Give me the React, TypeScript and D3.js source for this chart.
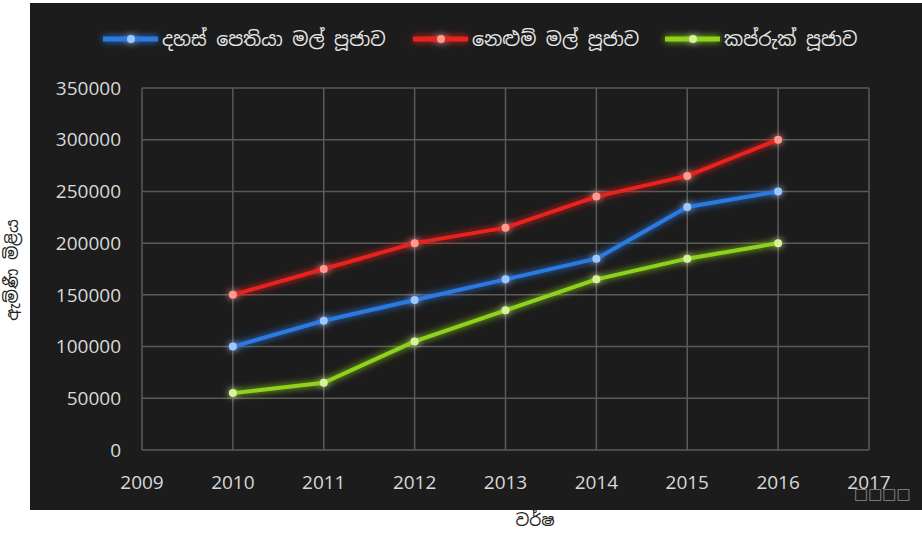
import React, { useRef, useEffect } from 'react';
import * as d3 from 'd3';

const years = [2010, 2011, 2012, 2013, 2014, 2015, 2016];
const seriesNames = ['දහස් පෙතියා මල් පූජාව', 'නෙළුම් මල් පූජාව', 'කප්රුක් පූජාව'];
const dahasPethiya = [100000, 125000, 145000, 165000, 185000, 235000, 250000];
const nelum = [150000, 175000, 200000, 215000, 245000, 265000, 300000];
const kapruk = [55000, 65000, 105000, 135000, 165000, 185000, 200000];
const colors = ['#2a7ae2', '#e8201c', '#8fd21e'];
const dotColors = ['#9cc8ff', '#ff9a90', '#d8f29a'];
const xTicks = [2009, 2010, 2011, 2012, 2013, 2014, 2015, 2016, 2017];
const yTicks = [0, 50000, 100000, 150000, 200000, 250000, 300000, 350000];

const W = 922;
const H = 536;

const Chart = () => {
  const ref = useRef(null);

  useEffect(() => {
    const svg = d3.select(ref.current);
    svg.selectAll('*').remove();

    const x = d3.scaleLinear().domain([2009, 2017]).range([142, 869]);
    const y = d3.scaleLinear().domain([0, 350000]).range([450, 88]);

    // glow filter in user space so flat lines keep their halo
    const defs = svg.append('defs');
    const glow = defs.append('filter').attr('id', 'glow')
      .attr('filterUnits', 'userSpaceOnUse')
      .attr('x', -W).attr('y', -H).attr('width', W * 3).attr('height', H * 3);
    glow.append('feGaussianBlur').attr('in', 'SourceGraphic').attr('stdDeviation', 3.5).attr('result', 'blur');
    const merge = glow.append('feMerge');
    merge.append('feMergeNode').attr('in', 'blur');
    merge.append('feMergeNode').attr('in', 'SourceGraphic');

    // dark panel
    svg.append('rect')
      .attr('x', 30).attr('y', 3).attr('width', W - 30).attr('height', 507)
      .attr('fill', '#1c1c1c');

    // grid
    const grid = svg.append('g').attr('stroke', '#5a5a5a').attr('stroke-width', 1.5);
    grid.selectAll('.gy').data(yTicks).join('line')
      .attr('x1', x(2009)).attr('x2', x(2017))
      .attr('y1', d => y(d)).attr('y2', d => y(d));
    grid.selectAll('.gx').data(xTicks).join('line')
      .attr('x1', d => x(d)).attr('x2', d => x(d))
      .attr('y1', y(0)).attr('y2', y(350000));

    // tick labels
    const font = '"Open Sans", "Liberation Sans", sans-serif';
    svg.append('g').selectAll('text').data(yTicks).join('text')
      .attr('x', 121).attr('y', d => y(d)).attr('dy', '0.35em')
      .attr('text-anchor', 'end').attr('fill', '#d9d9d9')
      .style('font-family', font).style('font-size', '19px')
      .text(d => d);
    svg.append('g').selectAll('text').data(xTicks).join('text')
      .attr('x', d => x(d)).attr('y', 489)
      .attr('text-anchor', 'middle').attr('fill', '#d9d9d9')
      .style('font-family', font).style('font-size', '19px')
      .text(d => d);

    // series
    const allSeries = [dahasPethiya, nelum, kapruk];
    const line = d3.line<number>().x((d, i) => x(years[i])).y(d => y(d));
    allSeries.forEach((s, k) => {
      const g = svg.append('g').attr('filter', 'url(#glow)');
      g.append('path').datum(s).attr('d', line)
        .attr('fill', 'none').attr('stroke', colors[k]).attr('stroke-width', 4)
        .attr('stroke-linejoin', 'round');
      g.selectAll('circle').data(s).join('circle')
        .attr('cx', (d, i) => x(years[i])).attr('cy', d => y(d)).attr('r', 4)
        .attr('fill', dotColors[k]);
    });

    // legend
    const legendX = [103, 413, 665];
    const sinhala = '"Noto Sans Sinhala", "Iskoola Pota", sans-serif';
    seriesNames.forEach((name, k) => {
      const g = svg.append('g').attr('transform', `translate(${legendX[k]},39)`);
      const sw = g.append('g').attr('filter', 'url(#glow)');
      sw.append('line').attr('x1', 0).attr('x2', 55).attr('y1', 0).attr('y2', 0)
        .attr('stroke', colors[k]).attr('stroke-width', 5);
      sw.append('circle').attr('cx', 28).attr('cy', 0).attr('r', 4).attr('fill', dotColors[k]);
      g.append('text').attr('x', 59).attr('y', 0).attr('dy', '0.35em')
        .attr('fill', '#e6e6e6').style('font-size', '19px')
        .style('font-family', sinhala)
        .text(name);
    });

    // axis titles
    svg.append('text')
      .attr('transform', 'translate(18,270) rotate(-90)')
      .attr('text-anchor', 'middle').attr('fill', '#222')
      .style('font-size', '17px')
      .style('font-family', sinhala)
      .text('ඇම්ණී මිළිය');
    svg.append('text')
      .attr('x', 535).attr('y', 526)
      .attr('text-anchor', 'middle').attr('fill', '#222')
      .style('font-size', '17px')
      .style('font-family', sinhala)
      .text('වර්ෂ');

    // stray missing-glyph boxes from the source image
    svg.append('text')
      .attr('x', 854).attr('y', 499).attr('fill', '#8a8a8a')
      .style('font-family', '"DejaVu Sans", sans-serif').style('font-size', '15px')
      .text('□□□□');
  }, []);

  return <svg ref={ref} width={W} height={H} style={{ display: 'block' }} />;
};

export default function App() {
  return (
    <div style={{ position: 'absolute', left: 0, top: 0, background: '#fff' }}>
      <Chart />
    </div>
  );
}
